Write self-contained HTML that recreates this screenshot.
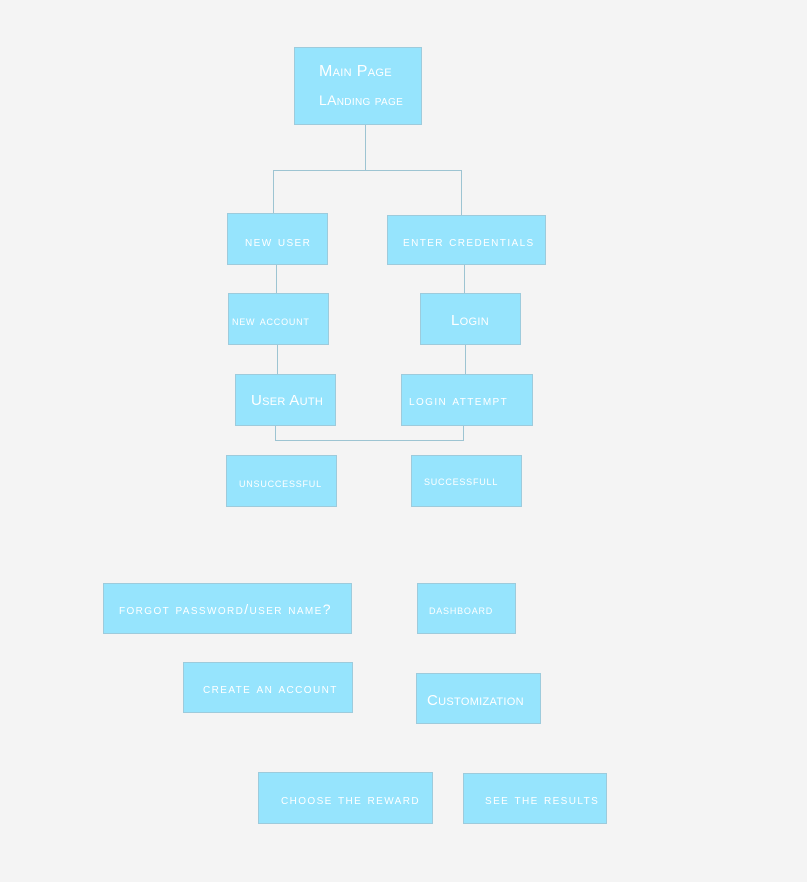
<!DOCTYPE html>
<html><head><meta charset="utf-8"><style>
html,body{margin:0;padding:0;}
body{width:807px;height:882px;background:#f4f4f4;position:relative;overflow:hidden;font-family:"Liberation Sans",sans-serif;}
.b{position:absolute;box-sizing:border-box;background:#96e4fd;border:1px solid #9dcbdc;color:#fff;font-variant:small-caps;font-size:14px;letter-spacing:0.1em;white-space:nowrap;}
.b span{position:absolute;}
.l{position:absolute;background:#9dc4d2;}
</style></head><body>
<div class="l" style="left:365px;top:125px;width:1px;height:45px"></div>
<div class="l" style="left:273px;top:170px;width:189px;height:1px"></div>
<div class="l" style="left:273px;top:170px;width:1px;height:43px"></div>
<div class="l" style="left:461px;top:170px;width:1px;height:45px"></div>
<div class="l" style="left:276px;top:265px;width:1px;height:28px"></div>
<div class="l" style="left:464px;top:265px;width:1px;height:28px"></div>
<div class="l" style="left:277px;top:345px;width:1px;height:29px"></div>
<div class="l" style="left:465px;top:345px;width:1px;height:29px"></div>
<div class="l" style="left:275px;top:426px;width:1px;height:14px"></div>
<div class="l" style="left:463px;top:426px;width:1px;height:14px"></div>
<div class="l" style="left:275px;top:440px;width:189px;height:1px"></div>

<div class="b" style="left:294px;top:47px;width:128px;height:78px;font-size:16px;letter-spacing:0.02em"><span style="left:24px;top:15px">Main Page</span><span style="left:24px;top:44px;font-size:14px">LAnding page</span></div>
<div class="b" style="left:227px;top:213px;width:101px;height:52px"><span style="left:17px;top:19px">new user</span></div>
<div class="b" style="left:387px;top:215px;width:159px;height:50px"><span style="left:15px;top:17px">enter credentials</span></div>
<div class="b" style="left:228px;top:293px;width:101px;height:52px;font-size:13px;letter-spacing:0.06em"><span style="left:3px;top:19px">new account</span></div>
<div class="b" style="left:420px;top:293px;width:101px;height:52px;font-size:15px;letter-spacing:0.02em"><span style="left:30px;top:18px">Login</span></div>
<div class="b" style="left:235px;top:374px;width:101px;height:52px;font-size:15px;letter-spacing:0.02em"><span style="left:15px;top:17px">User Auth</span></div>
<div class="b" style="left:401px;top:374px;width:132px;height:52px"><span style="left:7px;top:17px">login attempt</span></div>
<div class="b" style="left:226px;top:455px;width:111px;height:52px;font-size:13px;letter-spacing:0.06em"><span style="left:12px;top:19px">unsuccessful</span></div>
<div class="b" style="left:411px;top:455px;width:111px;height:52px;font-size:13px;letter-spacing:0.06em"><span style="left:12px;top:17px">successfull</span></div>
<div class="b" style="left:103px;top:583px;width:249px;height:51px"><span style="left:15px;top:17px">forgot password/user name?</span></div>
<div class="b" style="left:417px;top:583px;width:99px;height:51px;font-size:13px;letter-spacing:0.06em"><span style="left:11px;top:18px">dashboard</span></div>
<div class="b" style="left:183px;top:662px;width:170px;height:51px"><span style="left:19px;top:17px">create an account</span></div>
<div class="b" style="left:416px;top:673px;width:125px;height:51px;font-size:15px;letter-spacing:0.02em"><span style="left:10px;top:18px">Customization</span></div>
<div class="b" style="left:258px;top:772px;width:175px;height:52px"><span style="left:22px;top:18px">choose the reward</span></div>
<div class="b" style="left:463px;top:773px;width:144px;height:51px"><span style="left:21px;top:17px">see the results</span></div>
</body></html>
